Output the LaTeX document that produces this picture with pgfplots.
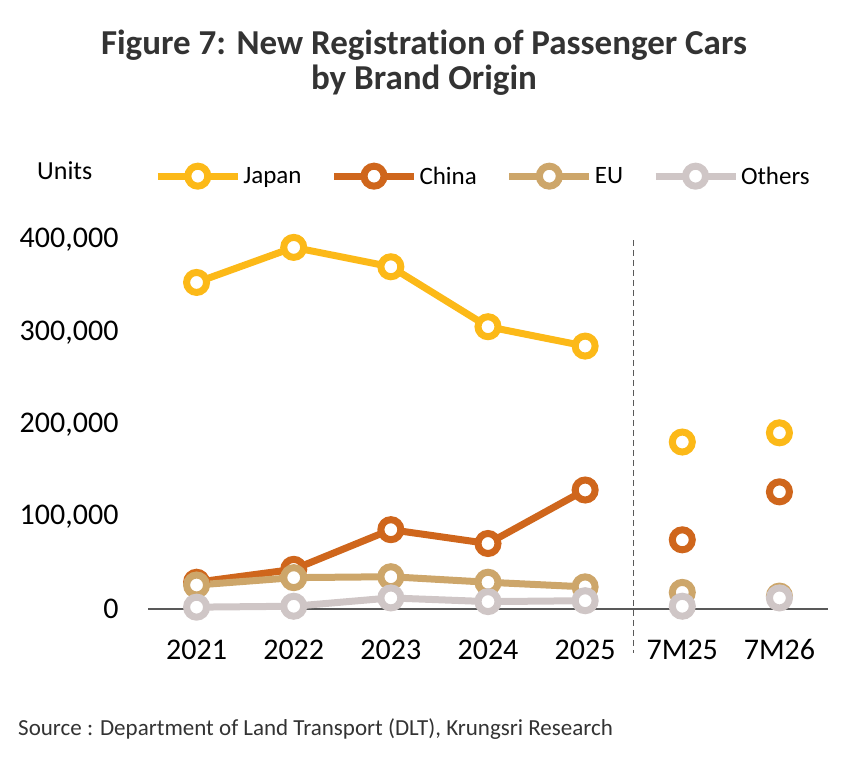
\documentclass[border=0pt]{standalone}
\usepackage{pgfplots}
\pgfplotsset{compat=1.18}
\usepackage{fontspec}
\setmainfont{Carlito}[Ligatures=NoCommon]
\definecolor{cjapan}{HTML}{FCB918}
\definecolor{cchina}{HTML}{CF661C}
\definecolor{ceu}{HTML}{CDA66A}
\definecolor{cothers}{HTML}{CFC6C6}
\definecolor{ctitle}{HTML}{333333}
\definecolor{caxis}{HTML}{595959}
\begin{document}
\begin{tikzpicture}[x=1pt,y=1pt]
\useasboundingbox (0,0) rectangle (850,769);
\node[anchor=center,align=center,font=\fontsize{35}{35}\selectfont\bfseries,text=ctitle] at (424,706) {Figure 7: New Registration of Passenger Cars\\by Brand Origin};
\node[anchor=west,font=\fontsize{26}{28}\selectfont,inner sep=0pt] at (37,598) {Units};
\node[anchor=west,font=\fontsize{23}{26}\selectfont,text=ctitle,inner sep=0pt] at (18,40) {Source : Department of Land Transport (DLT), Krungsri Research};
\begin{axis}[
  at={(148pt,160pt)}, anchor=south west,
  scale only axis, width=680pt, height=369pt,
  xmin=-0.5, xmax=6.5, ymin=0, ymax=400000,
  axis x line*=bottom, axis y line*=left,
  y axis line style={draw=none},
  x axis line style={draw=caxis,line width=1.5pt},
  major tick length=0pt,
  xtick={0,1,2,3,4,5,6},
  xticklabels={2021,2022,2023,2024,2025,7M25,7M26},
  ytick={0,100000,200000,300000,400000},
  yticklabels={0,{100,000},{200,000},{300,000},{400,000}},
  scaled y ticks=false,
  ticklabel style={font=\fontsize{30}{32}\selectfont},
  xticklabel style={yshift=-27pt},
  yticklabel style={xshift=-26pt},
  unbounded coords=jump,
  clip=false,
  every axis plot/.append style={line width=7pt},
  mark size=10pt,
  legend style={at={(axis description cs:0.009,1.173)},anchor=west,draw=none,fill=none,
    font=\fontsize{25}{27}\selectfont, legend columns=4,
    /tikz/every even column/.append style={column sep=27pt},
    inner sep=0pt},
  legend image code/.code={\draw[mark repeat=2,mark phase=2] plot coordinates {(0pt,0pt)(40pt,0pt)(80pt,0pt)};},
]
\draw[caxis,line width=1.2pt,dash pattern=on 6pt off 4pt] (axis cs:4.5,400000) -- (axis cs:4.5,-48000);
\addplot[cjapan,mark=*,mark options={fill=white,line width=7pt,solid}] coordinates {
(0,354000) (1,392000) (2,371000) (3,306000) (4,285000) (4.5,nan) (5,181000) (5.5,nan) (6,191000)};
\addlegendentry{Japan}
\addplot[cchina,mark=*,mark options={fill=white,line width=7pt,solid}] coordinates {
(0,29000) (1,43000) (2,86000) (3,71000) (4,129000) (4.5,nan) (5,75000) (5.5,nan) (6,127000)};
\addlegendentry{China}
\addplot[ceu,mark=*,mark options={fill=white,line width=7pt,solid}] coordinates {
(0,26000) (1,34000) (2,35000) (3,29000) (4,24000) (4.5,nan) (5,18000) (5.5,nan) (6,14000)};
\addlegendentry{EU}
\addplot[cothers,mark=*,mark options={fill=white,line width=7pt,solid}] coordinates {
(0,2000) (1,3000) (2,12000) (3,8000) (4,9000) (4.5,nan) (5,3000) (5.5,nan) (6,12000)};
\addlegendentry{Others}
\end{axis}
\end{tikzpicture}
\end{document}
